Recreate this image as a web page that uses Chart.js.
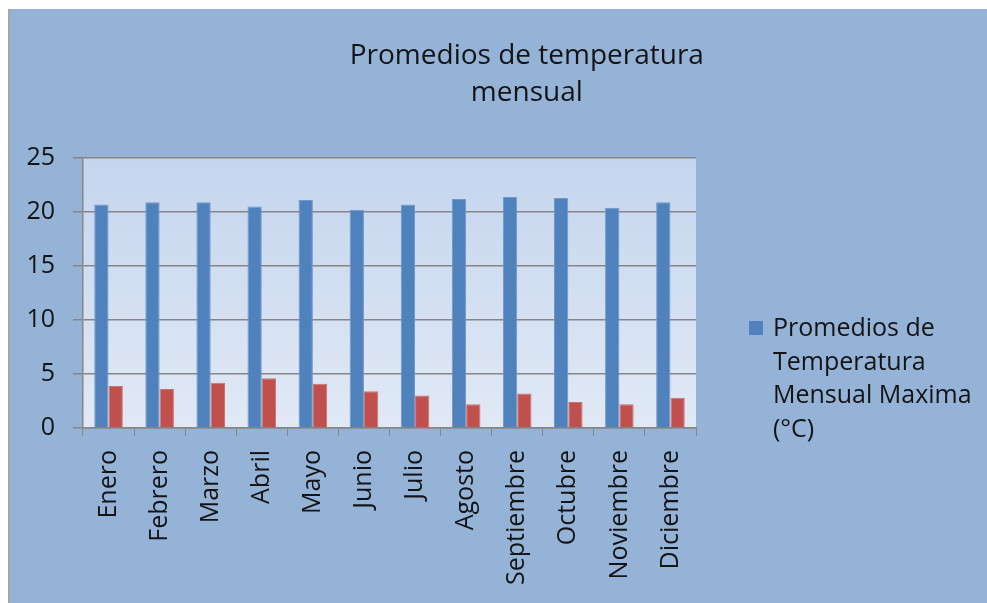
<!DOCTYPE html>
<html>
<head>
<meta charset="utf-8">
<script src="https://cdn.jsdelivr.net/npm/chart.js@4.4.1/dist/chart.umd.min.js"></script>
<style>
  html, body { margin: 0; padding: 0; background: #fff; }
  .frame {
    position: absolute; left: 8px; top: 9px; right: 0; bottom: 0;
    background: #95b3d7; border-left: 2px solid #a6a6a6;
  }
  canvas { display: block; }
</style>
</head>
<body>
<div class="frame"><canvas id="tempChart" width="977" height="594"></canvas></div>
<script>
const months = ['Enero', 'Febrero', 'Marzo', 'Abril', 'Mayo', 'Junio', 'Julio', 'Agosto', 'Septiembre', 'Octubre', 'Noviembre', 'Diciembre'];
const maxTemps = [20.7, 20.9, 20.9, 20.5, 21.1, 20.2, 20.7, 21.2, 21.4, 21.3, 20.4, 20.9];
const minTemps = [3.9, 3.6, 4.2, 4.6, 4.1, 3.4, 3.0, 2.2, 3.2, 2.4, 2.2, 2.8];
const yTicks = [0, 5, 10, 15, 20, 25];
const titleLines = ['Promedios de temperatura', 'mensual'];
const legendLines = ['Promedios de', 'Temperatura', 'Mensual Maxima', '(°C)'];

const labelFont = { family: "'Open Sans', sans-serif", size: 25 };
const gridGray = '#868686';

// Plot area gradient fill
const plotBackground = {
  id: 'plotBackground',
  beforeDraw(chart) {
    const { ctx, chartArea: a } = chart;
    const g = ctx.createLinearGradient(0, a.top, 0, a.bottom);
    g.addColorStop(0, '#c4d5ee');
    g.addColorStop(1, '#e1e9f5');
    ctx.save();
    ctx.fillStyle = g;
    ctx.fillRect(a.left, a.top, a.right - a.left, a.bottom - a.top);
    ctx.restore();
  }
};

// Title (off-centre, two lines) and wrapped legend
const sideText = {
  id: 'sideText',
  afterDraw(chart) {
    const { ctx, chartArea: a } = chart;
    ctx.save();
    ctx.fillStyle = '#141414';
    ctx.textBaseline = 'middle';

    ctx.font = "28px 'Open Sans', sans-serif";
    ctx.textAlign = 'center';
    titleLines.forEach((line, i) => ctx.fillText(line, chart.width * 0.529, 47 + i * 37));

    const ds = chart.data.datasets[0];
    const lx = a.right + 53;
    ctx.fillStyle = ds.backgroundColor;
    ctx.fillRect(lx, 312, 14, 14);
    ctx.fillStyle = '#141414';
    ctx.font = "25px 'Open Sans', sans-serif";
    ctx.textAlign = 'left';
    legendLines.forEach((line, i) => ctx.fillText(line, lx + 24, 320 + i * 33.5));
    ctx.restore();
  }
};

new Chart(document.getElementById('tempChart'), {
  type: 'bar',
  data: {
    labels: months,
    datasets: [
      {
        label: legendLines.join(' '),
        data: maxTemps,
        backgroundColor: '#4f81bd',
        borderColor: '#6f97c9',
        borderWidth: 1,
        categoryPercentage: 0.56,
        barPercentage: 1
      },
      {
        label: 'Promedios de Temperatura Mensual Minima (°C)',
        data: minTemps,
        backgroundColor: '#c0504d',
        borderColor: '#cc716e',
        borderWidth: 1,
        categoryPercentage: 0.56,
        barPercentage: 1
      }
    ]
  },
  options: {
    responsive: false,
    animation: false,
    layout: { padding: { top: 149, right: 291, left: 0, bottom: 0 } },
    plugins: {
      legend: { display: false },
      title: { display: false },
      tooltip: { enabled: false }
    },
    scales: {
      x: {
        grid: { drawOnChartArea: false, color: gridGray, tickLength: 8, offset: true },
        border: { color: gridGray, width: 1.5 },
        ticks: { color: '#141414', font: labelFont, minRotation: 90, maxRotation: 90, padding: 14, autoSkip: false },
        afterFit: s => { s.height = 175; }
      },
      y: {
        min: 0,
        max: 25,
        afterBuildTicks: s => { s.ticks = yTicks.map(v => ({ value: v })); },
        grid: { color: gridGray, lineWidth: 1.5, tickLength: 10 },
        border: { color: gridGray, width: 1.5 },
        ticks: { color: '#141414', font: labelFont, padding: 18 },
        afterFit: s => { s.width = 73; }
      }
    }
  },
  plugins: [plotBackground, sideText]
});
</script>
</body>
</html>
